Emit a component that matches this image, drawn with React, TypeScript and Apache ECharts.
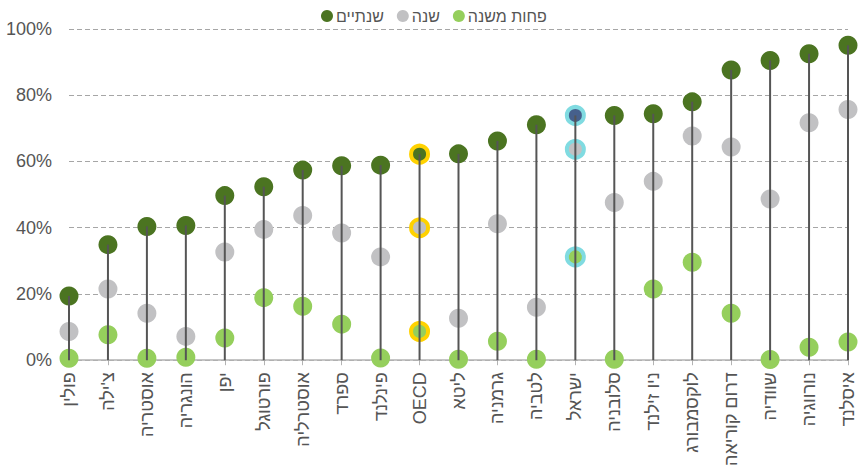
import React, { useEffect, useRef } from "react";
import * as echarts from "echarts";

const categories = [
  "פולין", "צ'ילה", "אוסטריה", "הונגריה", "יפן", "פורטוגל", "אוסטרליה", "ספרד", "פינלנד", "OECD",
  "ליטא", "גרמניה", "לטביה", "ישראל", "סלובניה", "ניו זילנד", "לוקסמבורג", "דרום קוריאה", "שוודיה", "נורווגיה", "איסלנד",
];
const twoYears = [19.4, 34.9, 40.4, 40.7, 49.7, 52.4, 57.4, 58.7, 58.9, 62.2, 62.3, 66.2, 71.1, 73.9, 73.9, 74.4, 78.0, 87.6, 90.5, 92.5, 95.1];
const oneYear = [8.7, 21.5, 14.2, 7.2, 32.7, 39.5, 43.7, 38.4, 31.2, 40.0, 12.7, 41.2, 16.0, 63.7, 47.6, 54.0, 67.7, 64.4, 48.7, 71.7, 75.7];
const lessThanYear = [0.6, 7.7, 0.6, 0.9, 6.7, 18.9, 16.3, 10.9, 0.7, 8.7, 0.3, 5.7, 0.3, 31.2, 0.3, 21.5, 29.6, 14.2, 0.2, 3.9, 5.5];
const yTicks = [0, 20, 40, 60, 80, 100];

const seriesNames = ["שנתיים", "שנה", "פחות משנה"];
const FONT = "'Liberation Sans', Arial, sans-serif";

const DARK = "#4b7421";
const GREY = "#c1c1c3";
const LIGHT = "#95cf5c";
const ISRAEL_TOP = "#46608c";
const OECD_RING = "#ffd200";
const ISRAEL_RING = "#80dbe1";

const OECD_IDX = categories.indexOf("OECD");
const ISRAEL_IDX = categories.indexOf("ישראל");

function buildData(values: number[], isTop: boolean) {
  return values.map((v, i) => {
    if (i === OECD_IDX) {
      return { value: v, symbolSize: 17, itemStyle: { borderColor: OECD_RING, borderWidth: 4 } };
    }
    if (i === ISRAEL_IDX) {
      return {
        value: v,
        symbolSize: 17,
        itemStyle: { borderColor: ISRAEL_RING, borderWidth: 4, ...(isTop ? { color: ISRAEL_TOP } : {}) },
      };
    }
    return v;
  });
}

export default function App() {
  const ref = useRef<HTMLDivElement>(null);
  useEffect(() => {
    if (!ref.current) return;
    const chart = echarts.init(ref.current, undefined, { renderer: "svg" });
    chart.setOption({
      animation: false,
      textStyle: { fontFamily: FONT },
      legend: {
        data: seriesNames,
        top: 3,
        left: 316,
        icon: "circle",
        itemWidth: 12,
        itemHeight: 12,
        itemGap: 13,
        textStyle: { fontSize: 16, color: "#555", fontFamily: FONT, padding: [0, 0, 0, -2] },
      },
      grid: { left: 69, right: 15, top: 29, bottom: 107 },
      xAxis: {
        type: "category",
        data: categories,
        boundaryGap: false,
        axisLine: { lineStyle: { color: "#b3b3b3", width: 1.5 } },
        axisTick: { show: true, length: 5, lineStyle: { color: "#b3b3b3" } },
        axisLabel: { interval: 0, rotate: 90, margin: 12, fontSize: 18, color: "#555", fontFamily: FONT },
        splitLine: { show: false },
      },
      yAxis: {
        type: "value",
        min: yTicks[0],
        max: yTicks[yTicks.length - 1],
        interval: 20,
        axisLine: { show: false },
        axisTick: { show: false },
        axisLabel: { formatter: "{value}%", fontSize: 18, color: "#555", margin: 17, fontFamily: FONT },
        splitLine: { lineStyle: { color: "#a6a6a6", type: [5, 3], width: 1 } },
      },
      series: [
        {
          name: "פחות משנה",
          type: "scatter",
          symbolSize: 19,
          itemStyle: { color: LIGHT, opacity: 1 },
          data: buildData(lessThanYear, false),
          z: 2,
        },
        {
          name: "שנה",
          type: "scatter",
          symbolSize: 19,
          itemStyle: { color: GREY, opacity: 1 },
          data: buildData(oneYear, false),
          z: 2,
        },
        {
          name: "שנתיים",
          type: "scatter",
          symbolSize: 19,
          itemStyle: { color: DARK, opacity: 1 },
          data: buildData(twoYears, true),
          z: 2,
        },
        {
          name: "stems",
          type: "custom",
          z: 4,
          silent: true,
          encode: { x: 0, y: 1 },
          data: twoYears.map((v, i) => [i, v]),
          renderItem: (params: any, api: any) => {
            const idx = api.value(0);
            const bottom = api.coord([idx, 0]);
            const top = api.coord([idx, api.value(1)]);
            return {
              type: "line",
              shape: { x1: bottom[0], y1: bottom[1], x2: top[0], y2: top[1] },
              style: { stroke: "#555", lineWidth: 2 },
            };
          },
        },
      ],
    });
    return () => chart.dispose();
  }, []);
  return (
    <div
      ref={ref}
      style={{ position: "absolute", left: 0, top: 0, width: 863, height: 469 }}
    />
  );
}
